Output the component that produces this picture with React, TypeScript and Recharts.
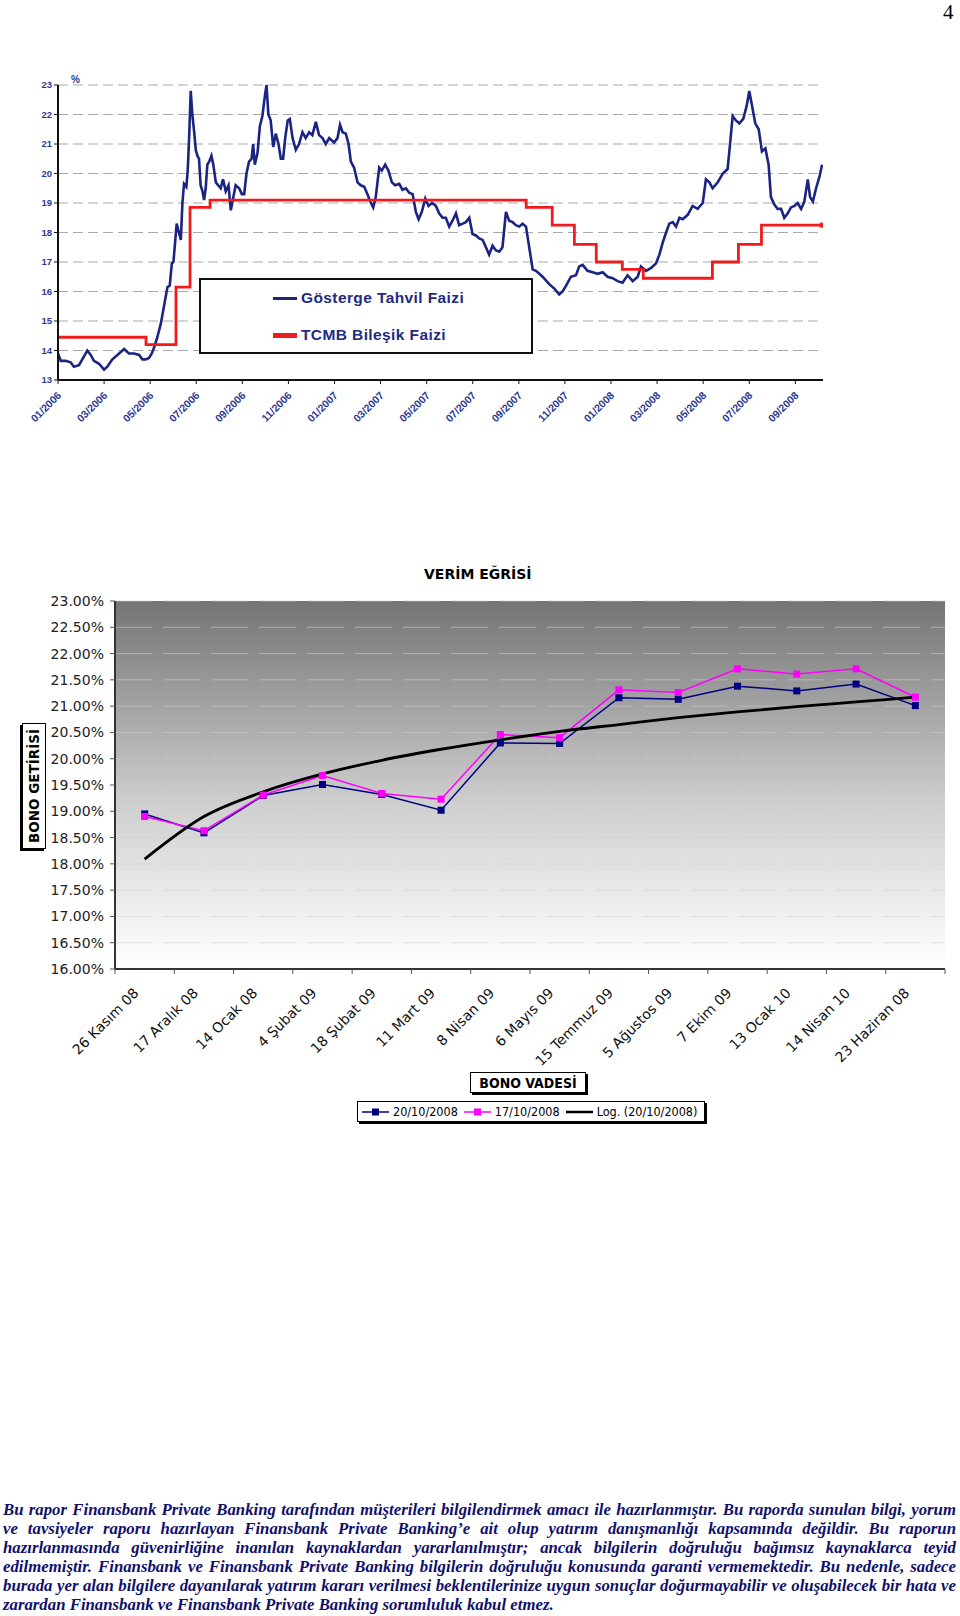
import React from 'react';
import {
  LineChart, ComposedChart, Line, XAxis, YAxis, CartesianGrid,
} from 'recharts';

// Üst grafik: [Ocak 2006'dan itibaren ay, faiz %]
const gostergeTahvil: [number, number][] = [
  [0.0, 13.9], [0.12, 13.65], [0.33, 13.65], [0.55, 13.6], [0.69, 13.45], [0.91, 13.5], [1.13, 13.8], [1.27, 14.0],
  [1.42, 13.85], [1.56, 13.65], [1.78, 13.55], [2.0, 13.35], [2.14, 13.45], [2.36, 13.7], [2.58, 13.85], [2.87, 14.05],
  [3.08, 13.9], [3.3, 13.9], [3.52, 13.85], [3.66, 13.7], [3.81, 13.7], [3.95, 13.75], [4.07, 13.9], [4.17, 14.1],
  [4.31, 14.45], [4.46, 14.9], [4.6, 15.5], [4.75, 16.15], [4.85, 16.2], [4.94, 16.95], [5.01, 17.0], [5.08, 17.65],
  [5.15, 18.3], [5.23, 18.05], [5.33, 17.75], [5.4, 19.0], [5.47, 19.65], [5.57, 19.55], [5.63, 20.1], [5.69, 21.2],
  [5.76, 22.8], [5.83, 22.0], [5.91, 21.4], [5.98, 20.8], [6.05, 20.6], [6.12, 20.5], [6.19, 19.6], [6.27, 19.4],
  [6.34, 19.1], [6.41, 19.5], [6.48, 20.3], [6.56, 20.4], [6.66, 20.6], [6.74, 20.3], [6.85, 19.7], [6.95, 19.6],
  [7.06, 19.5], [7.16, 19.8], [7.28, 19.4], [7.4, 19.6], [7.5, 18.75], [7.61, 19.2], [7.71, 19.6], [7.86, 19.5],
  [7.98, 19.3], [8.08, 19.3], [8.18, 20.0], [8.29, 20.4], [8.4, 20.5], [8.47, 21.0], [8.54, 20.3], [8.66, 20.7],
  [8.76, 21.6], [8.87, 21.95], [8.99, 22.7], [9.05, 23.0], [9.13, 22.0], [9.23, 21.8], [9.34, 20.9], [9.45, 21.35],
  [9.57, 21.0], [9.67, 20.5], [9.77, 20.5], [9.86, 21.2], [9.97, 21.8], [10.06, 21.85], [10.18, 21.2], [10.32, 20.8],
  [10.46, 21.0], [10.61, 21.4], [10.75, 21.2], [10.9, 21.4], [11.04, 21.3], [11.19, 21.75], [11.33, 21.3], [11.48, 21.2],
  [11.62, 21.0], [11.77, 21.2], [11.98, 21.05], [12.13, 21.2], [12.24, 21.65], [12.35, 21.4], [12.49, 21.35], [12.61, 21.0],
  [12.71, 20.4], [12.85, 20.2], [13.0, 19.7], [13.14, 19.6], [13.29, 19.55], [13.43, 19.3], [13.55, 19.05], [13.68, 18.85],
  [13.79, 19.2], [13.94, 20.2], [14.05, 20.1], [14.2, 20.3], [14.34, 20.1], [14.49, 19.7], [14.63, 19.6], [14.81, 19.65],
  [14.95, 19.45], [15.1, 19.5], [15.24, 19.35], [15.39, 19.3], [15.53, 18.7], [15.65, 18.45], [15.79, 18.7], [15.94, 19.15],
  [16.08, 18.9], [16.23, 19.0], [16.4, 18.9], [16.54, 18.65], [16.69, 18.5], [16.83, 18.5], [16.98, 18.2], [17.12, 18.4],
  [17.27, 18.65], [17.41, 18.25], [17.56, 18.3], [17.7, 18.35], [17.85, 18.5], [17.99, 17.95], [18.14, 17.9], [18.28, 17.8],
  [18.43, 17.75], [18.57, 17.5], [18.71, 17.25], [18.86, 17.55], [19.0, 17.4], [19.15, 17.35], [19.29, 17.5], [19.44, 18.7],
  [19.58, 18.4], [19.73, 18.35], [19.87, 18.25], [20.02, 18.2], [20.16, 18.3], [20.31, 18.2], [20.45, 17.5], [20.6, 16.75],
  [20.74, 16.7], [20.89, 16.6], [21.03, 16.5], [21.32, 16.25], [21.54, 16.1], [21.75, 15.9], [21.9, 16.0], [22.05, 16.2],
  [22.26, 16.5], [22.48, 16.55], [22.62, 16.85], [22.77, 16.9], [22.98, 16.7], [23.2, 16.65], [23.42, 16.6], [23.64, 16.65],
  [23.85, 16.5], [24.07, 16.45], [24.29, 16.35], [24.5, 16.3], [24.72, 16.55], [24.94, 16.35], [25.16, 16.5], [25.3, 16.85],
  [25.52, 16.7], [25.74, 16.8], [25.95, 16.95], [26.1, 17.25], [26.24, 17.65], [26.39, 18.0], [26.53, 18.3], [26.68, 18.35],
  [26.82, 18.2], [26.97, 18.5], [27.11, 18.45], [27.33, 18.6], [27.54, 18.9], [27.76, 18.8], [27.98, 19.0], [28.12, 19.8],
  [28.27, 19.7], [28.41, 19.5], [28.63, 19.7], [28.85, 20.0], [29.06, 20.15], [29.16, 20.95], [29.28, 21.95], [29.42, 21.8],
  [29.57, 21.7], [29.74, 21.85], [29.89, 22.3], [30.0, 22.8], [30.12, 22.3], [30.26, 21.7], [30.41, 21.5], [30.55, 20.75],
  [30.7, 20.85], [30.84, 20.3], [30.94, 19.2], [31.09, 18.95], [31.23, 18.8], [31.38, 18.8], [31.52, 18.5], [31.67, 18.65],
  [31.81, 18.85], [31.96, 18.9], [32.1, 19.0], [32.25, 18.8], [32.39, 19.05], [32.54, 19.8], [32.64, 19.2], [32.76, 19.05],
  [32.9, 19.5], [33.05, 19.9], [33.16, 20.3],
];

// TCMB bileşik faizi: her basamağın başladığı ay ve değeri (son nokta bitiş)
const tcmbBilesik: [number, number][] = [
  [0, 14.45], [3.82, 14.2], [5.12, 16.15], [5.73, 18.85], [6.6, 19.1], [20.32, 18.85], [21.45, 18.25],
  [22.41, 17.6], [23.36, 17.0], [24.49, 16.75], [25.4, 16.45], [28.4, 17.0], [29.53, 17.6], [30.53, 18.25], [33.17, 18.25],
];

const ustXEtiketleri = [
  '01/2006', '03/2006', '05/2006', '07/2006', '09/2006', '11/2006', '01/2007', '03/2007', '05/2007',
  '07/2007', '09/2007', '11/2007', '01/2008', '03/2008', '05/2008', '07/2008', '09/2008',
];
const ustYTicks = [13, 14, 15, 16, 17, 18, 19, 20, 21, 22, 23];

// Alt grafik: verim eğrisi
const vadeler = [
  '26 Kasım 08', '17 Aralık 08', '14 Ocak 08', '4 Şubat 09', '18 Şubat 09', '11 Mart 09', '8 Nisan 09',
  '6 Mayıs 09', '15 Temmuz 09', '5 Ağustos 09', '7 Ekim 09', '13 Ocak 10', '14 Nisan 10', '23 Haziran 08',
];
const getiri20Ekim = [18.95, 18.59, 19.30, 19.51, 19.32, 19.02, 20.30, 20.29, 21.16, 21.13, 21.38, 21.29, 21.42, 21.01];
const getiri17Ekim = [18.90, 18.63, 19.31, 19.68, 19.34, 19.23, 20.46, 20.40, 21.31, 21.26, 21.71, 21.61, 21.71, 21.17];
const logTrend = [18.09, 18.90, 19.37, 19.71, 19.97, 20.18, 20.36, 20.52, 20.65, 20.78, 20.89, 20.99, 21.08, 21.17];
const altYTicks = [16, 16.5, 17, 17.5, 18, 18.5, 19, 19.5, 20, 20.5, 21, 21.5, 22, 22.5, 23];

const gostergeData = gostergeTahvil.map(([m, v]) => ({ m, v }));
const tcmbData = tcmbBilesik.map(([m, v]) => ({ m, v }));
const ustXTicks = ustXEtiketleri.map((_, i) => i * 2);
const verimData = vadeler.map((vade, i) => ({
  vade, g20: getiri20Ekim[i], g17: getiri17Ekim[i], log: logTrend[i],
}));

const NAVY = '#1b2480';
const satirlar = [
  'Bu rapor Finansbank Private Banking tarafından müşterileri bilgilendirmek amacı ile hazırlanmıştır. Bu raporda sunulan bilgi, yorum',
  've tavsiyeler raporu hazırlayan Finansbank Private Banking’e ait olup yatırım danışmanlığı kapsamında değildir. Bu raporun',
  'hazırlanmasında güvenirliğine inanılan kaynaklardan yararlanılmıştır; ancak bilgilerin doğruluğu bağımsız kaynaklarca teyid',
  'edilmemiştir. Finansbank ve Finansbank Private Banking bilgilerin doğruluğu konusunda garanti vermemektedir. Bu nedenle, sadece',
  'burada yer alan bilgilere dayanılarak yatırım kararı verilmesi beklentilerinize uygun sonuçlar doğurmayabilir ve oluşabilecek bir hata ve',
  'zarardan Finansbank ve Finansbank Private Banking sorumluluk kabul etmez.',
];

const UstXTick = ({ x, y, index }: any) => {
  const tx = x + 4;
  const ty = y + 10;
  return (
    <text x={tx} y={ty} transform={`rotate(-45, ${tx}, ${ty})`} textAnchor="end"
      fontSize={10.5} fontWeight="bold" fill="#2c3a96" fontFamily="Liberation Sans, Arial, sans-serif">
      {ustXEtiketleri[index]}
    </text>
  );
};

const VadeTick = ({ x, y, payload, width, visibleTicksCount, index }: any) => {
  const band = width && visibleTicksCount ? width / visibleTicksCount : 59.3;
  const left = x - band / 2;
  const tx = x - 5;
  const ty = y + 25;
  return (
    <g>
      <line x1={left} y1={y} x2={left} y2={y + 5} stroke="#555" />
      {index === visibleTicksCount - 1 && <line x1={left + band} y1={y} x2={left + band} y2={y + 5} stroke="#555" />}
      <text x={tx} y={ty} transform={`rotate(-45, ${tx}, ${ty})`} textAnchor="end"
        fontSize={14} fill="#111" fontFamily="DejaVu Sans, Verdana, sans-serif">
        {payload.value}
      </text>
    </g>
  );
};

const kare = (renk: string) => (p: any) => {
  if (p.cx == null || p.cy == null) return <g key={p.key} />;
  return <rect key={p.key} x={p.cx - 3.5} y={p.cy - 3.5} width={7} height={7} fill={renk} />;
};

const sonNokta = (p: any) => {
  if (p.index !== tcmbData.length - 1) return <g key={p.key} />;
  return <rect key={p.key} x={p.cx - 2.5} y={p.cy - 2.5} width={5} height={5} fill="#ee1c1c" />;
};

const legendItem = (renk: string, isaret: boolean, ad: string) => (
  <div style={{ display: 'flex', alignItems: 'center', marginRight: 6 }}>
    <svg width={27} height={10} style={{ marginRight: 4 }}>
      <line x1={0} y1={5} x2={27} y2={5} stroke={renk} strokeWidth={isaret ? 1.5 : 2.5} />
      {isaret && <rect x={10} y={1.5} width={7} height={7} fill={renk} />}
    </svg>
    <span>{ad}</span>
  </div>
);

export default function App() {
  return (
    <div style={{ position: 'absolute', left: 0, top: 0, width: 960, height: 1616, background: '#fff', overflow: 'hidden' }}>
      <div style={{ position: 'absolute', left: 943, top: 0, fontFamily: 'Liberation Serif, serif', fontSize: 21 }}>4</div>

      {/* Üst grafik */}
      <div style={{ position: 'absolute', left: 0, top: 70 }}>
        <LineChart width={840} height={360} margin={{ top: 15, right: 17, bottom: 10, left: 18 }}>
          <CartesianGrid vertical={false} stroke="#a9a9a9" strokeDasharray="10 5" />
          <XAxis type="number" dataKey="m" domain={[0, 33.2]} ticks={ustXTicks} interval={0} allowDataOverflow
            height={40} tick={<UstXTick />} tickSize={4} tickLine={{ stroke: '#111' }}
            axisLine={{ stroke: '#111', strokeWidth: 2 }} />
          <YAxis type="number" domain={[13, 23]} ticks={ustYTicks} interval={0} width={40} tickSize={4}
            tickLine={{ stroke: '#111' }} axisLine={{ stroke: '#111', strokeWidth: 2 }}
            tick={{ fontSize: 9.5, fontWeight: 'bold', fill: '#2c3a96', fontFamily: 'Liberation Sans, Arial, sans-serif' }} />
          <Line data={gostergeData} dataKey="v" type="linear" stroke={NAVY} strokeWidth={2.6} dot={false} isAnimationActive={false} />
          <Line data={tcmbData} dataKey="v" type="stepAfter" stroke="#ee1c1c" strokeWidth={2.8} dot={sonNokta} isAnimationActive={false} />
        </LineChart>
        <div style={{ position: 'absolute', left: 71, top: 4, fontSize: 10, fontWeight: 'bold', color: '#2c3a96', fontFamily: 'Liberation Sans, Arial, sans-serif' }}>%</div>
      </div>
      <div style={{
        position: 'absolute', left: 199, top: 278, width: 330, height: 72, border: '2px solid #111', background: '#fff',
        fontFamily: 'Liberation Sans, Arial, sans-serif', fontWeight: 'bold', fontSize: 15.5, letterSpacing: 0.4, color: '#1f2a80',
      }}>
        <div style={{ position: 'absolute', left: 72, top: 9, display: 'flex', alignItems: 'center' }}>
          <span style={{ display: 'inline-block', width: 24, height: 3, background: NAVY, marginRight: 4 }} />Gösterge Tahvil Faizi
        </div>
        <div style={{ position: 'absolute', left: 72, top: 46, display: 'flex', alignItems: 'center' }}>
          <span style={{ display: 'inline-block', width: 24, height: 5, background: '#ee1c1c', marginRight: 4 }} />TCMB Bileşik Faizi
        </div>
      </div>

      {/* Alt grafik: VERİM EĞRİSİ */}
      <div style={{ position: 'absolute', left: 424, top: 566, fontFamily: 'DejaVu Sans, Verdana, sans-serif', fontWeight: 'bold', fontSize: 14, whiteSpace: 'nowrap' }}>
        VERİM EĞRİSİ
      </div>
      <div style={{ position: 'absolute', left: 0, top: 590 }}>
        <ComposedChart width={960} height={480} data={verimData} margin={{ top: 11, right: 15, bottom: 0, left: 0 }}>
          <defs>
            <linearGradient id="plotBg" x1="0" y1="0" x2="0" y2="1">
              <stop offset="0" stopColor="#747474" />
              <stop offset="0.55" stopColor="#cfcfcf" />
              <stop offset="1" stopColor="#ffffff" />
            </linearGradient>
          </defs>
          <CartesianGrid vertical={false} fill="url(#plotBg)" fillOpacity={1} stroke="rgba(205,205,205,0.55)" strokeDasharray="37 11" />
          <XAxis dataKey="vade" scale="band" interval={0} height={101} tickSize={0} tickMargin={0} tick={<VadeTick />}
            axisLine={{ stroke: '#333', strokeWidth: 2 }} />
          <XAxis xAxisId="ust" orientation="top" height={0} tick={false} tickLine={false} axisLine={{ stroke: '#333', strokeWidth: 2 }} />
          <YAxis type="number" domain={[16, 23]} ticks={altYTicks} interval={0} width={115} tickSize={5} tickMargin={6}
            tickFormatter={(v: number) => `${v.toFixed(2)}%`} tickLine={{ stroke: '#555' }}
            axisLine={{ stroke: '#333', strokeWidth: 2 }}
            tick={{ fontSize: 14, fill: '#222', fontFamily: 'DejaVu Sans, Verdana, sans-serif' }} />
          <YAxis yAxisId="sag" orientation="right" width={0} tick={false} tickLine={false} axisLine={{ stroke: '#333', strokeWidth: 2 }} />
          <Line dataKey="g20" type="linear" stroke="#000080" strokeWidth={1.5} dot={kare('#000080')} isAnimationActive={false} />
          <Line dataKey="g17" type="linear" stroke="#ff00ff" strokeWidth={1.5} dot={kare('#ff00ff')} isAnimationActive={false} />
          <Line dataKey="log" type="monotone" stroke="#000" strokeWidth={2.8} dot={false} isAnimationActive={false} />
        </ComposedChart>
      </div>
      <div style={{
        position: 'absolute', left: -29, top: 776, width: 124, height: 22, transform: 'rotate(-90deg)', transformOrigin: '62px 11px',
        border: '1px solid #000', boxShadow: '-2px -2px 0 #000', background: '#fff', display: 'flex', alignItems: 'center', justifyContent: 'center',
        fontFamily: 'DejaVu Sans, Verdana, sans-serif', fontWeight: 'bold', fontSize: 13.5, whiteSpace: 'nowrap',
      }}>BONO GETİRİSİ</div>
      <div style={{
        position: 'absolute', left: 470, top: 1072, width: 114, height: 19, border: '1px solid #000', boxShadow: '2px 2px 0 #000',
        background: '#fff', display: 'flex', alignItems: 'center', justifyContent: 'center',
        fontFamily: 'DejaVu Sans Condensed, DejaVu Sans, sans-serif', fontWeight: 'bold', fontSize: 14, whiteSpace: 'nowrap',
      }}>BONO VADESİ</div>
      <div style={{
        position: 'absolute', left: 357, top: 1101, width: 342, height: 19, border: '1px solid #000', boxShadow: '2px 2px 0 #000',
        background: '#fff', display: 'flex', alignItems: 'center', paddingLeft: 4, boxSizing: 'content-box',
        fontFamily: 'DejaVu Sans Condensed, DejaVu Sans, sans-serif', fontSize: 12.5, whiteSpace: 'nowrap',
      }}>
        {legendItem('#000080', true, '20/10/2008')}
        {legendItem('#ff00ff', true, '17/10/2008')}
        {legendItem('#000', false, 'Log. (20/10/2008)')}
      </div>

      <div style={{
        position: 'absolute', left: 3, top: 1501, width: 953, color: '#10106b',
        fontFamily: 'Liberation Serif, Times New Roman, serif', fontWeight: 'bold', fontStyle: 'italic', fontSize: 16.8, lineHeight: '18.9px',
      }}>
        {satirlar.map((s, i) => (
          <div key={i} style={{
            whiteSpace: 'nowrap', textAlign: 'justify',
            textAlignLast: i === satirlar.length - 1 ? 'left' : 'justify',
          }}>{s}</div>
        ))}
      </div>
    </div>
  );
}
